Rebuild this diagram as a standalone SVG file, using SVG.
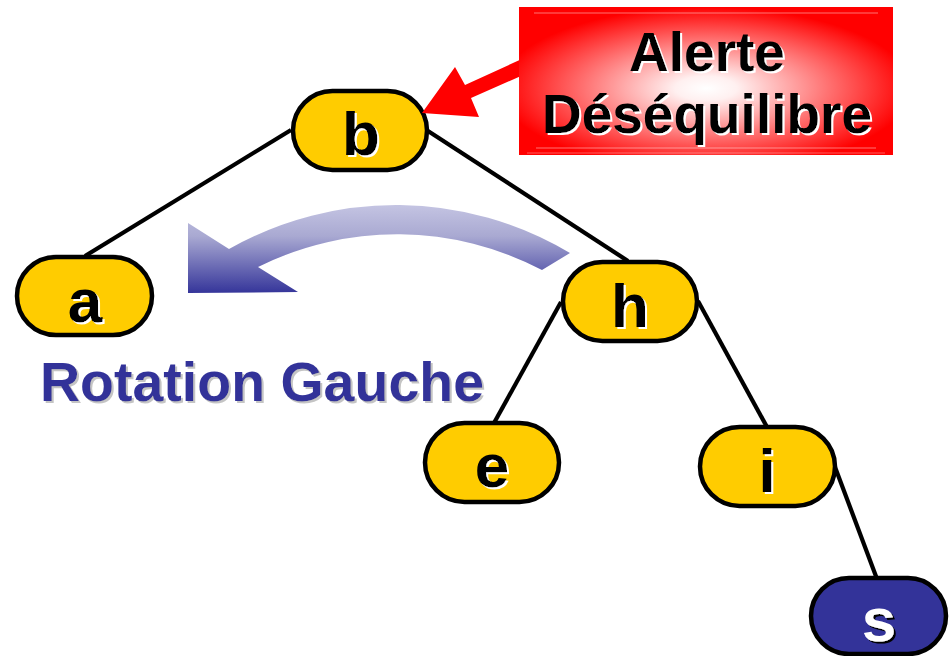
<svg xmlns="http://www.w3.org/2000/svg" width="952" height="656" viewBox="0 0 952 656">
  <style>
    .node { fill: #ffcc00; stroke: #000; stroke-width: 4.5; }
    .node.leaf-new { fill: #333399; }
    .edge { stroke: #000; stroke-width: 4.2; fill: none; }
    .lbl { font-family: "Liberation Sans", Arial, sans-serif; font-weight: bold; font-size: 62px; text-anchor: middle; fill: #000; filter: url(#shadowWhite); }
    .lbl.inv { fill: #fff; filter: url(#shadowBlack); }
    .alert { font-family: "Liberation Sans", Arial, sans-serif; font-weight: bold; font-size: 55px; text-anchor: middle; fill: #000; filter: url(#shadowWhite); }
    .caption { font-family: "Liberation Sans", Arial, sans-serif; font-weight: bold; font-size: 55.5px; fill: #333399; filter: url(#shadowGrey); }
  </style>
  <defs>
    <!-- hard-edged text shadows, offset down-right -->
    <filter id="shadowWhite" x="-10%" y="-10%" width="130%" height="130%">
      <feOffset in="SourceAlpha" dx="2" dy="2" result="off"/>
      <feFlood flood-color="#ffffff"/>
      <feComposite in2="off" operator="in" result="sh"/>
      <feMerge><feMergeNode in="sh"/><feMergeNode in="SourceGraphic"/></feMerge>
    </filter>
    <filter id="shadowBlack" x="-10%" y="-10%" width="130%" height="130%">
      <feOffset in="SourceAlpha" dx="2" dy="2" result="off"/>
      <feFlood flood-color="#000000"/>
      <feComposite in2="off" operator="in" result="sh"/>
      <feMerge><feMergeNode in="sh"/><feMergeNode in="SourceGraphic"/></feMerge>
    </filter>
    <filter id="shadowGrey" x="-10%" y="-10%" width="130%" height="130%">
      <feOffset in="SourceAlpha" dx="2" dy="2" result="off"/>
      <feFlood flood-color="#c4c4c4"/>
      <feComposite in2="off" operator="in" result="sh"/>
      <feMerge><feMergeNode in="sh"/><feMergeNode in="SourceGraphic"/></feMerge>
    </filter>
    <radialGradient id="alertFill" cx="50%" cy="55%" r="55%">
      <stop offset="0" stop-color="#ffffff"/>
      <stop offset="0.15" stop-color="#fff0f0"/>
      <stop offset="0.6" stop-color="#ff7070"/>
      <stop offset="1" stop-color="#ff0000"/>
    </radialGradient>
    <linearGradient id="rotFill" gradientUnits="userSpaceOnUse" x1="0" y1="205" x2="0" y2="294">
      <stop offset="0" stop-color="#c4c4e2"/>
      <stop offset="0.35" stop-color="#a9a9d2"/>
      <stop offset="1" stop-color="#333399"/>
    </linearGradient>
  </defs>

  <!-- tree edges -->
  <g id="edges">
    <line class="edge" x1="291" y1="130" x2="85" y2="256"/>
    <line class="edge" x1="428" y1="131" x2="628" y2="261"/>
    <line class="edge" x1="561" y1="302" x2="494" y2="423"/>
    <line class="edge" x1="698" y1="301" x2="767" y2="427"/>
    <line class="edge" x1="835" y1="467" x2="877" y2="579"/>
  </g>

  <!-- left rotation arrow -->
  <g id="rotation-arrow">
    <path d="M 229,249 A 339 339 0 0 1 570,253 L 542,270 A 312 312 0 0 0 258,267 L 298,292 L 188,293 L 188,223 Z" fill="url(#rotFill)"/>
  </g>

  <g id="caption">
    <text class="caption" x="40" y="401">Rotation Gauche</text>
  </g>

  <!-- nodes -->
  <g id="node-b">
    <rect class="node" x="293" y="91" width="134" height="79" rx="39.5"/>
    <text class="lbl" x="361" y="155">b</text>
  </g>
  <g id="node-a">
    <rect class="node" x="17" y="257" width="135" height="78" rx="39"/>
    <text class="lbl" x="85" y="322">a</text>
  </g>
  <g id="node-h">
    <rect class="node" x="563" y="262" width="134" height="79" rx="39.5"/>
    <text class="lbl" x="630" y="327">h</text>
  </g>
  <g id="node-e">
    <rect class="node" x="425" y="423" width="134" height="79" rx="39.5"/>
    <text class="lbl" x="492" y="487">e</text>
  </g>
  <g id="node-i">
    <rect class="node" x="700" y="427" width="135" height="79" rx="39.5"/>
    <text class="lbl" x="767" y="492">i</text>
  </g>
  <g id="node-s">
    <rect class="node leaf-new" x="811" y="578" width="135" height="76" rx="38"/>
    <text class="lbl inv" x="879" y="641">s</text>
  </g>

  <!-- imbalance alert callout -->
  <g id="alert">
    <polygon points="422,113 455,67 465,85 524,58 530,72 471,98 479,117" fill="#ff0000"/>
    <rect x="519" y="7" width="374" height="148" fill="url(#alertFill)"/>
    <line x1="534" y1="13" x2="878" y2="13" stroke="#ffffff" stroke-opacity="0.45" stroke-width="1"/>
    <line x1="536" y1="148" x2="876" y2="148" stroke="#ffffff" stroke-opacity="0.45" stroke-width="1"/>
    <line x1="527" y1="153" x2="885" y2="153" stroke="#ffffff" stroke-opacity="0.35" stroke-width="1"/>
    <text class="alert" x="707" y="71">Alerte</text>
    <text class="alert" x="707" y="133">Déséquilibre</text>
  </g>
</svg>
